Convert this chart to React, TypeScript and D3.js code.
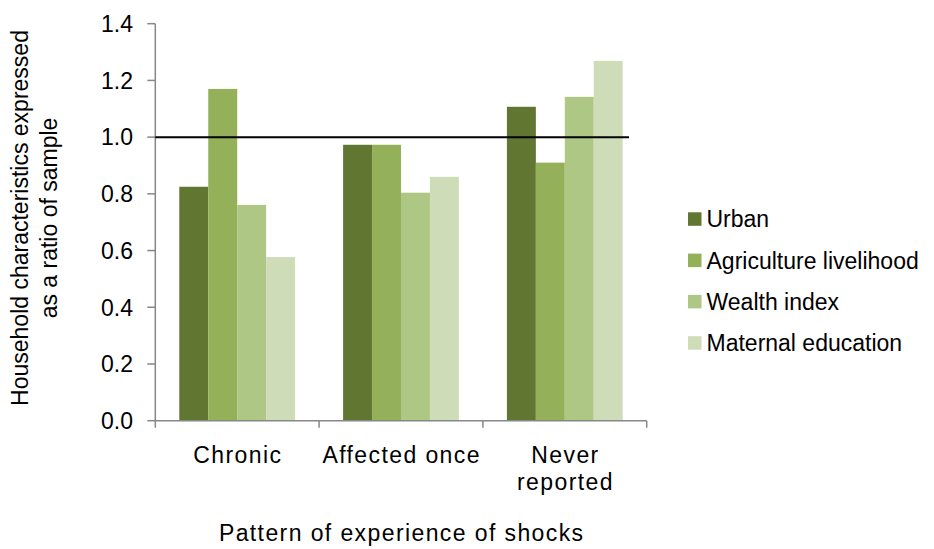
import React from "react";
import * as d3 from "d3";

const categories = ["Chronic", "Affected once", "Never reported"];
const categoryLines = [["Chronic"], ["Affected once"], ["Never", "reported"]];
const seriesNames = ["Urban", "Agriculture livelihood", "Wealth index", "Maternal education"];
const urban = [0.825, 0.973, 1.107];
const agriculture = [1.17, 0.973, 0.91];
const wealth = [0.761, 0.804, 1.142];
const maternal = [0.577, 0.86, 1.269];
const seriesValues = [urban, agriculture, wealth, maternal];
const colors = ["#617631", "#94B058", "#AEC785", "#CFDCB8"];
const yTicks = [0, 0.2, 0.4, 0.6, 0.8, 1.0, 1.2, 1.4];
const referenceValue = 1.0;

const W = 934;
const H = 549;
const FONT = "'Liberation Sans', Arial, sans-serif";
const FS = 23;

export default function App() {
  const y = d3.scaleLinear().domain([0, 1.4]).range([420.7, 23.7]);
  const x0 = d3.scaleBand<string>().domain(categories).range([155.3, 646.7]).paddingInner(0).paddingOuter(0);
  const bw = x0.bandwidth();
  const x1 = d3.scaleBand<string>().domain(seriesNames).range([24, bw - 24]).paddingInner(0);
  const axisColor = "#878787";

  return (
    <svg width={W} height={H} style={{ position: "absolute", left: 0, top: 0 }} fontFamily={FONT}>
      <rect width={W} height={H} fill="#fff" />
      {categories.map((c, ci) => (
        <g key={c} transform={`translate(${x0(c)},0)`}>
          {seriesNames.map((s, si) => {
            const v = seriesValues[si][ci];
            return (
              <rect
                key={s}
                x={x1(s)}
                y={y(v)}
                width={x1.bandwidth()}
                height={y(0) - y(v)}
                fill={colors[si]}
              />
            );
          })}
        </g>
      ))}
      <line x1={155.3} x2={155.3} y1={y(1.4)} y2={y(0)} stroke={axisColor} strokeWidth={1.5} />
      {yTicks.map((t) => (
        <g key={t}>
          <line x1={147.3} x2={155.3} y1={y(t)} y2={y(t)} stroke={axisColor} strokeWidth={1.5} />
          <text x={133} y={y(t)} dy="0.36em" textAnchor="end" fontSize={FS} fill="#000">
            {t.toFixed(1)}
          </text>
        </g>
      ))}
      <line x1={155.3} x2={646.7} y1={y(0)} y2={y(0)} stroke={axisColor} strokeWidth={1.5} />
      {categories.map((c) => (
        <line key={c} x1={(x0(c) as number) + bw} x2={(x0(c) as number) + bw} y1={y(0)} y2={y(0) + 7} stroke={axisColor} strokeWidth={1.5} />
      ))}
      <line x1={155.3} x2={155.3} y1={y(0)} y2={y(0) + 7} stroke={axisColor} strokeWidth={1.5} />
      <line x1={155.3} x2={629} y1={y(referenceValue)} y2={y(referenceValue)} stroke="#000" strokeWidth={2} />
      {categories.map((c, ci) => (
        <text key={c} y={463} textAnchor="middle" fontSize={FS} fill="#000" letterSpacing={1.4}>
          {categoryLines[ci].map((ln, li) => (
            <tspan key={li} x={(x0(c) as number) + bw / 2 + 0.7} dy={li === 0 ? 0 : 27}>
              {ln}
            </tspan>
          ))}
        </text>
      ))}
      <text x={401.7} y={541} textAnchor="middle" fontSize={FS} fill="#000" letterSpacing={1.4}>
        Pattern of experience of shocks
      </text>
      <g transform={`translate(0,218) rotate(-90)`}>
        <text x={0} y={28} textAnchor="middle" fontSize={FS} fill="#000">
          Household characteristics expressed
        </text>
        <text x={0} y={57} textAnchor="middle" fontSize={FS} fill="#000">
          as a ratio of sample
        </text>
      </g>
      {seriesNames.map((s, i) => (
        <g key={s} transform={`translate(688,${219 + i * 41.3})`}>
          <rect x={0} y={-6.7} width={13.5} height={13.5} fill={colors[i]} />
          <text x={18.5} y={0} dy="0.36em" fontSize={FS} fill="#000">
            {s}
          </text>
        </g>
      ))}
    </svg>
  );
}
